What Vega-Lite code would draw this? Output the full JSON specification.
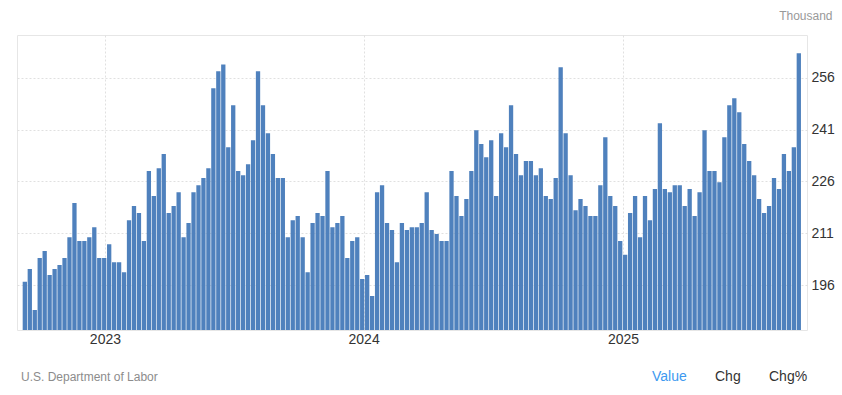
{
  "$schema": "https://vega.github.io/schema/vega-lite/v6.json",
  "width": 790,
  "height": 295,
  "autosize": "none",
  "padding": {"left": 17, "top": 35, "right": 35, "bottom": 65},
  "background": "white",
  "config": {"font": "Liberation Sans", "view": {"stroke": "#e6e6e6"}},
  "title": {"text": "U.S. Department of Labor", "orient": "bottom", "anchor": "start", "frame": "group", "fontSize": 12, "fontWeight": "normal", "color": "#8c8c8c", "offset": 6, "dx": 4, "dy": -18},
  "data": {"values": [
    {"date": "2022-09-10", "value": 197.0, "series": "Value"},
    {"date": "2022-09-17", "value": 200.7, "series": "Value"},
    {"date": "2022-09-24", "value": 188.9, "series": "Value"},
    {"date": "2022-10-01", "value": 203.9, "series": "Value"},
    {"date": "2022-10-08", "value": 205.9, "series": "Value"},
    {"date": "2022-10-15", "value": 199.0, "series": "Value"},
    {"date": "2022-10-22", "value": 200.7, "series": "Value"},
    {"date": "2022-10-29", "value": 201.9, "series": "Value"},
    {"date": "2022-11-05", "value": 203.9, "series": "Value"},
    {"date": "2022-11-12", "value": 209.9, "series": "Value"},
    {"date": "2022-11-19", "value": 219.8, "series": "Value"},
    {"date": "2022-11-26", "value": 208.8, "series": "Value"},
    {"date": "2022-12-03", "value": 208.8, "series": "Value"},
    {"date": "2022-12-10", "value": 209.9, "series": "Value"},
    {"date": "2022-12-17", "value": 212.8, "series": "Value"},
    {"date": "2022-12-24", "value": 203.9, "series": "Value"},
    {"date": "2022-12-31", "value": 203.9, "series": "Value"},
    {"date": "2023-01-07", "value": 207.9, "series": "Value"},
    {"date": "2023-01-14", "value": 202.7, "series": "Value"},
    {"date": "2023-01-21", "value": 202.7, "series": "Value"},
    {"date": "2023-01-28", "value": 199.8, "series": "Value"},
    {"date": "2023-02-04", "value": 214.8, "series": "Value"},
    {"date": "2023-02-11", "value": 218.9, "series": "Value"},
    {"date": "2023-02-18", "value": 216.9, "series": "Value"},
    {"date": "2023-02-25", "value": 208.8, "series": "Value"},
    {"date": "2023-03-04", "value": 229.0, "series": "Value"},
    {"date": "2023-03-11", "value": 221.8, "series": "Value"},
    {"date": "2023-03-18", "value": 229.8, "series": "Value"},
    {"date": "2023-03-25", "value": 233.9, "series": "Value"},
    {"date": "2023-04-01", "value": 216.9, "series": "Value"},
    {"date": "2023-04-08", "value": 218.9, "series": "Value"},
    {"date": "2023-04-15", "value": 222.9, "series": "Value"},
    {"date": "2023-04-22", "value": 209.9, "series": "Value"},
    {"date": "2023-04-29", "value": 214.0, "series": "Value"},
    {"date": "2023-05-06", "value": 222.9, "series": "Value"},
    {"date": "2023-05-13", "value": 224.9, "series": "Value"},
    {"date": "2023-05-20", "value": 227.0, "series": "Value"},
    {"date": "2023-05-27", "value": 229.8, "series": "Value"},
    {"date": "2023-06-03", "value": 252.9, "series": "Value"},
    {"date": "2023-06-10", "value": 257.8, "series": "Value"},
    {"date": "2023-06-17", "value": 259.8, "series": "Value"},
    {"date": "2023-06-24", "value": 235.9, "series": "Value"},
    {"date": "2023-07-01", "value": 248.0, "series": "Value"},
    {"date": "2023-07-08", "value": 229.0, "series": "Value"},
    {"date": "2023-07-15", "value": 227.8, "series": "Value"},
    {"date": "2023-07-22", "value": 231.0, "series": "Value"},
    {"date": "2023-07-29", "value": 237.9, "series": "Value"},
    {"date": "2023-08-05", "value": 257.8, "series": "Value"},
    {"date": "2023-08-12", "value": 248.0, "series": "Value"},
    {"date": "2023-08-19", "value": 239.9, "series": "Value"},
    {"date": "2023-08-26", "value": 233.9, "series": "Value"},
    {"date": "2023-09-02", "value": 227.0, "series": "Value"},
    {"date": "2023-09-09", "value": 227.0, "series": "Value"},
    {"date": "2023-09-16", "value": 209.9, "series": "Value"},
    {"date": "2023-09-23", "value": 214.8, "series": "Value"},
    {"date": "2023-09-30", "value": 216.0, "series": "Value"},
    {"date": "2023-10-07", "value": 209.9, "series": "Value"},
    {"date": "2023-10-14", "value": 199.8, "series": "Value"},
    {"date": "2023-10-21", "value": 214.0, "series": "Value"},
    {"date": "2023-10-28", "value": 216.9, "series": "Value"},
    {"date": "2023-11-04", "value": 216.0, "series": "Value"},
    {"date": "2023-11-11", "value": 229.0, "series": "Value"},
    {"date": "2023-11-18", "value": 212.8, "series": "Value"},
    {"date": "2023-11-25", "value": 214.0, "series": "Value"},
    {"date": "2023-12-02", "value": 216.0, "series": "Value"},
    {"date": "2023-12-09", "value": 203.9, "series": "Value"},
    {"date": "2023-12-16", "value": 208.8, "series": "Value"},
    {"date": "2023-12-23", "value": 209.9, "series": "Value"},
    {"date": "2023-12-30", "value": 197.8, "series": "Value"},
    {"date": "2024-01-06", "value": 199.0, "series": "Value"},
    {"date": "2024-01-13", "value": 192.9, "series": "Value"},
    {"date": "2024-01-20", "value": 222.9, "series": "Value"},
    {"date": "2024-01-27", "value": 224.9, "series": "Value"},
    {"date": "2024-02-03", "value": 214.0, "series": "Value"},
    {"date": "2024-02-10", "value": 212.0, "series": "Value"},
    {"date": "2024-02-17", "value": 202.7, "series": "Value"},
    {"date": "2024-02-24", "value": 214.0, "series": "Value"},
    {"date": "2024-03-02", "value": 212.0, "series": "Value"},
    {"date": "2024-03-09", "value": 212.8, "series": "Value"},
    {"date": "2024-03-16", "value": 212.8, "series": "Value"},
    {"date": "2024-03-23", "value": 214.0, "series": "Value"},
    {"date": "2024-03-30", "value": 222.9, "series": "Value"},
    {"date": "2024-04-06", "value": 212.0, "series": "Value"},
    {"date": "2024-04-13", "value": 210.8, "series": "Value"},
    {"date": "2024-04-20", "value": 208.8, "series": "Value"},
    {"date": "2024-04-27", "value": 208.8, "series": "Value"},
    {"date": "2024-05-04", "value": 229.0, "series": "Value"},
    {"date": "2024-05-11", "value": 221.8, "series": "Value"},
    {"date": "2024-05-18", "value": 216.0, "series": "Value"},
    {"date": "2024-05-25", "value": 220.9, "series": "Value"},
    {"date": "2024-06-01", "value": 229.0, "series": "Value"},
    {"date": "2024-06-08", "value": 240.8, "series": "Value"},
    {"date": "2024-06-15", "value": 236.8, "series": "Value"},
    {"date": "2024-06-22", "value": 233.0, "series": "Value"},
    {"date": "2024-06-29", "value": 237.9, "series": "Value"},
    {"date": "2024-07-06", "value": 221.8, "series": "Value"},
    {"date": "2024-07-13", "value": 239.9, "series": "Value"},
    {"date": "2024-07-20", "value": 235.9, "series": "Value"},
    {"date": "2024-07-27", "value": 248.0, "series": "Value"},
    {"date": "2024-08-03", "value": 233.9, "series": "Value"},
    {"date": "2024-08-10", "value": 227.8, "series": "Value"},
    {"date": "2024-08-17", "value": 231.9, "series": "Value"},
    {"date": "2024-08-24", "value": 231.9, "series": "Value"},
    {"date": "2024-08-31", "value": 227.8, "series": "Value"},
    {"date": "2024-09-07", "value": 229.8, "series": "Value"},
    {"date": "2024-09-14", "value": 221.8, "series": "Value"},
    {"date": "2024-09-21", "value": 220.9, "series": "Value"},
    {"date": "2024-09-28", "value": 227.0, "series": "Value"},
    {"date": "2024-10-05", "value": 259.0, "series": "Value"},
    {"date": "2024-10-12", "value": 239.9, "series": "Value"},
    {"date": "2024-10-19", "value": 227.8, "series": "Value"},
    {"date": "2024-10-26", "value": 217.7, "series": "Value"},
    {"date": "2024-11-02", "value": 220.9, "series": "Value"},
    {"date": "2024-11-09", "value": 218.9, "series": "Value"},
    {"date": "2024-11-16", "value": 216.0, "series": "Value"},
    {"date": "2024-11-23", "value": 216.0, "series": "Value"},
    {"date": "2024-11-30", "value": 224.9, "series": "Value"},
    {"date": "2024-12-07", "value": 238.8, "series": "Value"},
    {"date": "2024-12-14", "value": 221.8, "series": "Value"},
    {"date": "2024-12-21", "value": 218.9, "series": "Value"},
    {"date": "2024-12-28", "value": 208.8, "series": "Value"},
    {"date": "2025-01-04", "value": 204.8, "series": "Value"},
    {"date": "2025-01-11", "value": 216.9, "series": "Value"},
    {"date": "2025-01-18", "value": 221.8, "series": "Value"},
    {"date": "2025-01-25", "value": 209.9, "series": "Value"},
    {"date": "2025-02-01", "value": 221.8, "series": "Value"},
    {"date": "2025-02-08", "value": 214.8, "series": "Value"},
    {"date": "2025-02-15", "value": 223.8, "series": "Value"},
    {"date": "2025-02-22", "value": 242.8, "series": "Value"},
    {"date": "2025-03-01", "value": 223.8, "series": "Value"},
    {"date": "2025-03-08", "value": 222.9, "series": "Value"},
    {"date": "2025-03-15", "value": 224.9, "series": "Value"},
    {"date": "2025-03-22", "value": 224.9, "series": "Value"},
    {"date": "2025-03-29", "value": 218.9, "series": "Value"},
    {"date": "2025-04-05", "value": 223.8, "series": "Value"},
    {"date": "2025-04-12", "value": 216.0, "series": "Value"},
    {"date": "2025-04-19", "value": 222.9, "series": "Value"},
    {"date": "2025-04-26", "value": 240.8, "series": "Value"},
    {"date": "2025-05-03", "value": 229.0, "series": "Value"},
    {"date": "2025-05-10", "value": 229.0, "series": "Value"},
    {"date": "2025-05-17", "value": 225.8, "series": "Value"},
    {"date": "2025-05-24", "value": 238.8, "series": "Value"},
    {"date": "2025-05-31", "value": 248.0, "series": "Value"},
    {"date": "2025-06-07", "value": 250.0, "series": "Value"},
    {"date": "2025-06-14", "value": 246.0, "series": "Value"},
    {"date": "2025-06-21", "value": 236.8, "series": "Value"},
    {"date": "2025-06-28", "value": 231.9, "series": "Value"},
    {"date": "2025-07-05", "value": 227.8, "series": "Value"},
    {"date": "2025-07-12", "value": 220.9, "series": "Value"},
    {"date": "2025-07-19", "value": 216.9, "series": "Value"},
    {"date": "2025-07-26", "value": 218.9, "series": "Value"},
    {"date": "2025-08-02", "value": 227.0, "series": "Value"},
    {"date": "2025-08-09", "value": 223.8, "series": "Value"},
    {"date": "2025-08-16", "value": 233.9, "series": "Value"},
    {"date": "2025-08-23", "value": 229.0, "series": "Value"},
    {"date": "2025-08-30", "value": 235.9, "series": "Value"},
    {"date": "2025-09-06", "value": 263.0, "series": "Value"}
  ]},
  "mark": {"type": "bar", "width": 4.3, "clip": true},
  "encoding": {
    "x": {
      "field": "date", "type": "temporal",
      "scale": {"type": "utc", "domain": [
        {"year": 2022, "month": 9, "date": 6, "utc": true},
        {"year": 2025, "month": 9, "date": 10, "hours": 12, "utc": true}
      ]},
      "axis": {"title": null, "format": "%Y", "tickCount": "year", "ticks": false, "domain": false, "grid": true, "gridColor": "#e0e0e0", "gridDash": [2, 2], "labelFontSize": 14, "labelColor": "#333333", "labelPadding": 2}
    },
    "y": {
      "field": "value", "type": "quantitative",
      "scale": {"domain": [183.1, 268.3], "zero": false, "nice": false},
      "axis": {"orient": "right", "values": [196, 211, 226, 241, 256], "ticks": false, "domain": false, "grid": true, "gridColor": "#e0e0e0", "gridDash": [2, 2], "labelFontSize": 14, "labelColor": "#333333", "labelPadding": 4,
        "title": "Thousand", "titleAngle": 0, "titleAlign": "right", "titleBaseline": "middle", "titleX": 25, "titleY": -20, "titleFontSize": 12, "titleFontWeight": "normal", "titleColor": "#999999"}
    },
    "color": {
      "field": "series", "type": "nominal",
      "scale": {"domain": ["Value", "Chg", "Chg%"], "range": ["#4f81bd", "#4f81bd", "#4f81bd"]},
      "legend": {"orient": "none", "legendX": 621, "legendY": 335, "direction": "horizontal", "title": null, "symbolSize": 0, "symbolOpacity": 0, "symbolStrokeWidth": 0, "labelOffset": 0, "labelFontSize": 14, "labelColor": "#333333", "columnPadding": 14,
        "encode": {"labels": {"update": {"fill": {"signal": "datum.value === 'Value' ? '#3d99f0' : '#333333'"}}}}}
    }
  }
}
